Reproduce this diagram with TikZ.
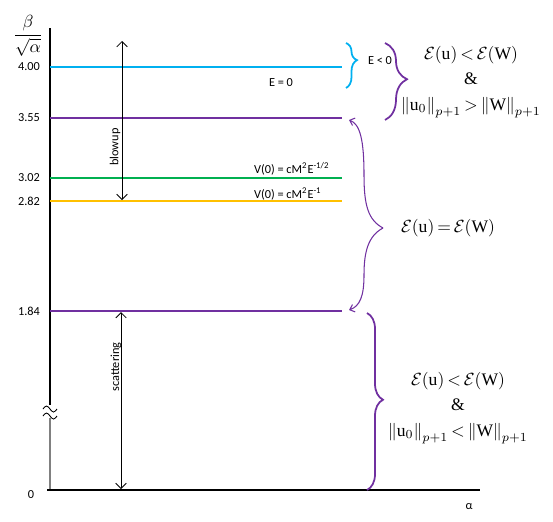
\documentclass[tikz,border=0pt]{standalone}
\usepackage{fontspec}
\setmainfont{Liberation Serif}
\newfontfamily\lblfont{Carlito}
\usetikzlibrary{arrows.meta,decorations.pathreplacing,positioning}
\definecolor{lvcyan}{RGB}{0,176,240}
\definecolor{lvpurple}{RGB}{112,48,160}
\definecolor{lvgreen}{RGB}{0,176,80}
\definecolor{lvamber}{RGB}{255,192,0}
\newcommand{\condsp}{\thickmuskip=3mu\relax\medmuskip=2mu\relax}

\begin{document}
\begin{tikzpicture}[x=0.02cm, y=-0.02cm,
  lbl/.style={font=\lblfont\fontsize{7}{8}\selectfont, inner sep=1pt},
  level/.style={line width=1.6pt},
  cond/.style={font={\fontsize{10}{14.5}\selectfont\condsp},
    inner sep=1pt, align=center},
  span/.style={line width=0.5pt,
    {Straight Barb[length=3pt,width=6pt]}-{Straight Barb[length=3pt,width=6pt]}},
  curly/.style n args={2}{decorate, line width=1pt,
    decoration={brace, amplitude=#1, aspect=#2}},
  arcarrow/.style={lvpurple, line width=0.6pt, -{Straight Barb[length=2.5pt,width=4.5pt]}}
]

\useasboundingbox (0,0) rectangle (553,521);

% ── Axes ─────────────────────────────────────────────────────────────────────
\pgfmathsetmacro{\xL}{50}    % vertical axis
\pgfmathsetmacro{\xR}{342}   % right end of the levels
\pgfmathsetmacro{\yO}{490}   % horizontal axis

\draw[line width=0.7pt] (\xL,28) -- (\xL,405);
\draw[gray, line width=0.6pt] (\xL,418) -- (\xL,\yO);
\draw[line width=0.7pt] (47,\yO) -- (480,\yO);
% axis break
\foreach \yy in {409,416}{
  \draw[line width=0.5pt] (43,\yy) sin (46.5,\yy-3) cos (50,\yy) sin (53.5,\yy+3) cos (57,\yy);
}

\node[inner sep=0pt] (ylab) at (28,36) {$\displaystyle\frac{\beta}{\sqrt{\alpha}}$};
\node[lbl] (xlab) at (469,507) {α};
\node[lbl] (tickO) at (31,495) {0};

% ════════════════════════════════════════════════════════════════════════════
% LEVELS
% ════════════════════════════════════════════════════════════════════════════
\foreach \nm/\yy/\lab/\col in {A/67/4.00/lvcyan, B/118/3.55/lvpurple,
    C/178/3.02/lvgreen, D/201/2.82/lvamber, E/311/1.84/lvpurple}{
  \draw[level, \col] (\xL,\yy) -- (\xR,\yy);
  \node[lbl] (tick\nm) at (29,\yy) {\lab};
}

\node[lbl] (ezero) at (281,83) {E = 0};
\node[lbl, anchor=west] (vhalf) at (252,169) {V(0) = cM\textsuperscript{2}E\textsuperscript{-1/2}};
\node[lbl, anchor=west] (vone) at (252,194) {V(0) = cM\textsuperscript{2}E\textsuperscript{-1}};

% ── Blowup and scattering ranges ─────────────────────────────────────────────
\coordinate (blowtop) at (122,41);
\coordinate (blowbot) at (122,200);
\draw[span] (blowtop) -- (blowbot);
\node[lbl, rotate=90] (blowup) at (115,147) {blowup};

\coordinate (scattop) at (121,312);
\coordinate (scatbot) at (121,489);
\draw[span] (scattop) -- (scatbot);
\node[lbl, rotate=90] (scatter) at (116,367) {scattering};

% ════════════════════════════════════════════════════════════════════════════
% BRACES
% ════════════════════════════════════════════════════════════════════════════
\draw[curly={0.22cm}{0.38}, lvcyan] (346,43) -- (346,88);
\node[lbl] (eneg) at (380,61) {E < 0};

\draw[curly={0.44cm}{0.47}, lvpurple] (385,43) -- (385,120);
\node[cond] (above) at (471,82) {%
  $\mathcal{E}(\mathrm{u}) < \mathcal{E}(\mathrm{W})$\\
  \&\\
  $\left\|\mathrm{u}_0\right\|_{p+1} > \left\|\mathrm{W}\right\|_{p+1}$};

% equal energy: two curved arrows
\coordinate (eqtip) at (383,228);
\coordinate (eqtop) at (349,120);
\coordinate (eqbot) at (349,310);
\draw[arcarrow] (eqtip) .. controls (368,220) and (364,205) .. (364,175)
  .. controls (364,140) and (360,124) .. (eqtop);
\draw[arcarrow] (eqtip) .. controls (368,236) and (364,252) .. (364,275)
  .. controls (364,296) and (360,306) .. (eqbot);
\node[cond] (equal) at (448,228) {$\mathcal{E}(\mathrm{u}) = \mathcal{E}(\mathrm{W})$};

\draw[curly={0.32cm}{0.49}, lvpurple] (367,313) -- (367,490);
\node[cond] (below) at (458,408) {%
  $\mathcal{E}(\mathrm{u}) < \mathcal{E}(\mathrm{W})$\\
  \&\\
  $\left\|\mathrm{u}_0\right\|_{p+1} < \left\|\mathrm{W}\right\|_{p+1}$};

\end{tikzpicture}
\end{document}
